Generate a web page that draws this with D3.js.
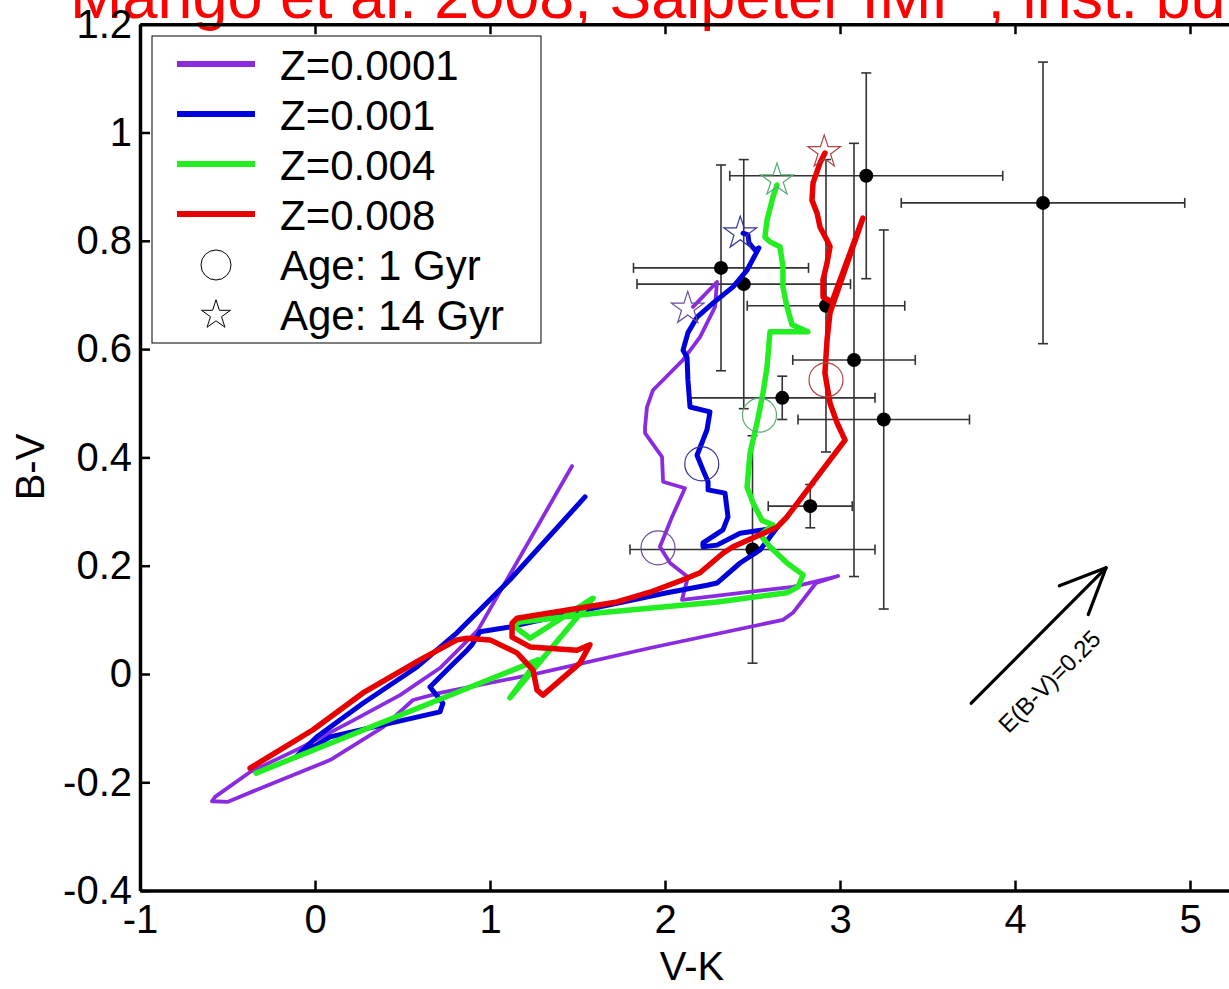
<!DOCTYPE html>
<html>
<head>
<meta charset="utf-8">
<script src="https://cdn.jsdelivr.net/npm/d3@7"></script>
<style>
  body { margin: 0; background: #fff; }
  svg text { font-family: "Liberation Sans", Arial, Helvetica, sans-serif; }
</style>
</head>
<body>
<div id="chart"></div>
<script>
// observed clusters (V-K, B-V) with errors
const obsVK  = [3.15, 4.16, 2.32, 2.45, 2.92, 3.08, 2.67, 3.25, 2.83, 2.50];
const obsBV  = [0.92, 0.87, 0.75, 0.72, 0.68, 0.58, 0.51, 0.47, 0.31, 0.23];
const obsVKerr = [0.78, 0.81, 0.50, 0.61, 0.45, 0.35, 0.53, 0.49, 0.24, 0.70];
const obsBVerr = [0.19, 0.26, 0.19, 0.23, 0.27, 0.40, 0.04, 0.35, 0.04, 0.21];

// model tracks, one per metallicity
const z0001VK = [1.469, 0.931, 0.714, 0.486, 0.2, -0.086, -0.371, -0.571, -0.589, -0.497, -0.297, 0.086, 0.389, 0.56, 0.714, 1.286, 1.914, 2.674, 2.731, 2.863, 2.989, 2.943, 2.731, 2.097, 2.131, 2.029, 1.971, 2.04, 2.114, 1.989, 1.983, 1.886, 1.886, 1.897, 1.931, 2.103, 2.2, 2.286, 2.297, 2.16];
const z0001BV = [0.384, 0.081, 0.011, -0.039, -0.089, -0.137, -0.181, -0.227, -0.235, -0.236, -0.209, -0.159, -0.098, -0.048, -0.035, 0.002, 0.048, 0.100, 0.113, 0.168, 0.181, 0.177, 0.161, 0.137, 0.179, 0.205, 0.235, 0.290, 0.343, 0.355, 0.401, 0.445, 0.456, 0.493, 0.524, 0.580, 0.622, 0.678, 0.724, 0.678];

const z001VK = [1.543, 1.114, 0.811, 0.583, 0.274, 0.011, -0.109, -0.069, 0.086, 0.714, 0.731, 0.657, 0.771, 0.869, 0.897, 0.943, 1.114, 1.629, 2.011, 2.24, 2.297, 2.429, 2.543, 2.64, 2.429, 2.297, 2.217, 2.217, 2.331, 2.36, 2.343, 2.246, 2.246, 2.217, 2.183, 2.217, 2.24, 2.257, 2.143, 2.131, 2.126, 2.103, 2.131, 2.183, 2.274, 2.389, 2.469, 2.537, 2.514, 2.48, 2.474, 2.446];
const z001BV = [0.327, 0.174, 0.076, 0.013, -0.054, -0.116, -0.153, -0.146, -0.116, -0.070, -0.054, -0.024, 0.013, 0.044, 0.054, 0.078, 0.087, 0.124, 0.150, 0.164, 0.168, 0.205, 0.229, 0.270, 0.260, 0.238, 0.235, 0.242, 0.266, 0.290, 0.334, 0.340, 0.355, 0.377, 0.404, 0.432, 0.451, 0.484, 0.493, 0.543, 0.585, 0.598, 0.630, 0.659, 0.685, 0.715, 0.746, 0.787, 0.783, 0.796, 0.811, 0.814];

const z004VK = [-0.337, 1.274, 1.114, 1.589, 1.229, 1.131, 1.171, 1.629, 2.297, 2.697, 2.76, 2.789, 2.697, 2.6, 2.543, 2.617, 2.554, 2.503, 2.469, 2.486, 2.526, 2.56, 2.583, 2.6, 2.817, 2.726, 2.697, 2.674, 2.674, 2.657, 2.6, 2.571, 2.583, 2.617, 2.64];
const z004BV = [-0.183, 0.026, -0.044, 0.140, 0.066, 0.090, 0.096, 0.113, 0.133, 0.150, 0.161, 0.183, 0.205, 0.235, 0.257, 0.275, 0.284, 0.316, 0.345, 0.408, 0.464, 0.519, 0.567, 0.632, 0.632, 0.645, 0.678, 0.715, 0.752, 0.789, 0.798, 0.807, 0.838, 0.881, 0.903];

const z008VK = [-0.371, -0.011, 0.274, 0.6, 0.811, 0.869, 1.0, 1.154, 1.246, 1.269, 1.303, 1.514, 1.571, 1.497, 1.229, 1.126, 1.126, 1.154, 1.726, 1.914, 2.103, 2.2, 2.331, 2.389, 2.64, 2.697, 2.886, 3.029, 2.983, 2.943, 2.914, 2.926, 2.943, 3.131, 2.954, 2.903, 2.903, 2.926, 2.943, 2.926, 2.886, 2.869, 2.84, 2.846, 2.886, 2.914];
const z008BV = [-0.174, -0.103, -0.035, 0.026, 0.063, 0.066, 0.063, 0.039, 0.007, -0.030, -0.039, 0.020, 0.054, 0.044, 0.050, 0.068, 0.094, 0.103, 0.133, 0.151, 0.174, 0.187, 0.223, 0.235, 0.271, 0.290, 0.371, 0.432, 0.464, 0.500, 0.556, 0.617, 0.667, 0.842, 0.687, 0.696, 0.728, 0.759, 0.789, 0.801, 0.825, 0.851, 0.875, 0.907, 0.944, 0.962];

// 1 Gyr and 14 Gyr positions on each track
const age1VK  = [1.96, 2.21, 2.54, 2.92];
const age1BV  = [0.233, 0.388, 0.478, 0.543];
const age14VK = [2.13, 2.43, 2.64, 2.91];
const age14BV = [0.675, 0.814, 0.912, 0.964];

const seriesNames = ["Z=0.0001", "Z=0.001", "Z=0.004", "Z=0.008"];
const lineColors   = ["#8a2be2", "#0000dd", "#22ee22", "#e80000"];
const markerColors = ["#6a4a9a", "#333399", "#55aa77", "#b04444"];

// reddening vector
const ebv = 0.25, evk = 0.77;
const arrowStart = [3.75, -0.054];

const xTicks = [-1, 0, 1, 2, 3, 4, 5];
const xTickLabels = ["-1", "0", "1", "2", "3", "4", "5"];
const yTicks = [-0.4, -0.2, 0, 0.2, 0.4, 0.6, 0.8, 1, 1.2];
const yTickLabels = ["-0.4", "-0.2", "0", "0.2", "0.4", "0.6", "0.8", "1", "1.2"];

const width = 1229, height = 989;
const svg = d3.select("#chart").append("svg")
  .attr("width", width).attr("height", height);

const x = d3.scaleLinear().domain([-1, 5.3]).range([140, 1242.5]);
const y = d3.scaleLinear().domain([-0.4, 1.2]).range([890.6, 24.2]);

// title (cut at the top in the original)
svg.append("text")
  .attr("x", 70).attr("y", 18)
  .attr("fill", "#ff0000")
  .style("font-size", "63px")
  .text("Marigo et al. 2008, Salpeter IMF , inst. burst");

// error bars + cluster points
const cap = 5;
const eb = svg.append("g").attr("stroke", "#333").attr("stroke-width", 1.6);
obsVK.forEach((vk, i) => {
  const bv = obsBV[i], xe = obsVKerr[i], ye = obsBVerr[i];
  eb.append("line").attr("x1", x(vk - xe)).attr("x2", x(vk + xe)).attr("y1", y(bv)).attr("y2", y(bv));
  eb.append("line").attr("x1", x(vk - xe)).attr("x2", x(vk - xe)).attr("y1", y(bv) - cap).attr("y2", y(bv) + cap);
  eb.append("line").attr("x1", x(vk + xe)).attr("x2", x(vk + xe)).attr("y1", y(bv) - cap).attr("y2", y(bv) + cap);
  eb.append("line").attr("x1", x(vk)).attr("x2", x(vk)).attr("y1", y(bv - ye)).attr("y2", y(bv + ye));
  eb.append("line").attr("x1", x(vk) - cap).attr("x2", x(vk) + cap).attr("y1", y(bv - ye)).attr("y2", y(bv - ye));
  eb.append("line").attr("x1", x(vk) - cap).attr("x2", x(vk) + cap).attr("y1", y(bv + ye)).attr("y2", y(bv + ye));
});
svg.append("g").selectAll("circle")
  .data(obsVK)
  .enter().append("circle")
  .attr("cx", d => x(d))
  .attr("cy", (d, i) => y(obsBV[i]))
  .attr("r", 7)
  .attr("fill", "#000");

// tracks
const tracks = [[z0001VK, z0001BV], [z001VK, z001BV], [z004VK, z004BV], [z008VK, z008BV]];
const widths = [3.8, 5, 5.5, 5.5];
const line = d3.line().x(d => x(d[0])).y(d => y(d[1]));
tracks.forEach((t, k) => {
  svg.append("path")
    .datum(t[0].map((v, i) => [v, t[1][i]]))
    .attr("d", line)
    .attr("fill", "none")
    .attr("stroke", lineColors[k])
    .attr("stroke-width", widths[k])
    .attr("stroke-linejoin", "round")
    .attr("stroke-linecap", "round");
});

// age markers
const star = d3.symbol().type(d3.symbolStar).size(330);
age1VK.forEach((vk, k) => {
  svg.append("circle")
    .attr("cx", x(vk)).attr("cy", y(age1BV[k])).attr("r", 17)
    .attr("fill", "none").attr("stroke", markerColors[k]).attr("stroke-width", 1.2);
  svg.append("path")
    .attr("d", star)
    .attr("transform", `translate(${x(age14VK[k])},${y(age14BV[k])})`)
    .attr("fill", "none").attr("stroke", markerColors[k]).attr("stroke-width", 1.2);
});

// reddening arrow
const ax0 = x(arrowStart[0]), ay0 = y(arrowStart[1]);
const ax1 = x(arrowStart[0] + evk), ay1 = y(arrowStart[1] + ebv);
const ang = Math.atan2(ay1 - ay0, ax1 - ax0);
const headLen = 50, headAng = 0.42;
const arr = svg.append("g").attr("stroke", "#000").attr("stroke-width", 3.2).attr("stroke-linecap", "round");
arr.append("line").attr("x1", ax0).attr("y1", ay0).attr("x2", ax1).attr("y2", ay1);
[-headAng, headAng].forEach(a => {
  arr.append("line").attr("x1", ax1).attr("y1", ay1)
    .attr("x2", ax1 - headLen * Math.cos(ang + a))
    .attr("y2", ay1 - headLen * Math.sin(ang + a));
});
const midT = 0.37, off = 40;
const lx = ax0 + (ax1 - ax0) * midT - off * Math.sin(ang);
const ly = ay0 + (ay1 - ay0) * midT + off * Math.cos(ang);
svg.append("text")
  .attr("transform", `translate(${lx},${ly}) rotate(${ang * 180 / Math.PI})`)
  .attr("text-anchor", "middle")
  .attr("dy", "0.35em")
  .style("font-size", "24px")
  .text("E(B-V)=" + ebv);

// axes
function styleAxis(g) {
  g.select(".domain").attr("stroke", "#000").attr("stroke-width", 3.5);
  g.selectAll(".tick line").attr("stroke", "#000").attr("stroke-width", 2.5);
  g.selectAll(".tick text").attr("fill", "#000").style("font-size", "40px");
}
svg.append("g")
  .attr("transform", `translate(0,${y(-0.4)})`)
  .call(d3.axisBottom(x).tickValues(xTicks).tickSize(-10).tickSizeOuter(0).tickPadding(14)
    .tickFormat((d, i) => xTickLabels[i]))
  .call(styleAxis);
svg.append("g")
  .attr("transform", `translate(0,${y(1.2)})`)
  .call(d3.axisTop(x).tickValues(xTicks).tickSize(-10).tickSizeOuter(0).tickFormat(""))
  .call(styleAxis);
svg.append("g")
  .attr("transform", `translate(${x(-1)},0)`)
  .call(d3.axisLeft(y).tickValues(yTicks).tickSize(-10).tickSizeOuter(0).tickPadding(8)
    .tickFormat((d, i) => yTickLabels[i]))
  .call(styleAxis);
svg.append("g")
  .attr("transform", `translate(${x(5.3)},0)`)
  .call(d3.axisRight(y).tickValues(yTicks).tickSize(-10).tickSizeOuter(0).tickFormat(""))
  .call(styleAxis);

// axis labels
svg.append("text")
  .attr("x", 692).attr("y", 980)
  .attr("text-anchor", "middle")
  .style("font-size", "40px")
  .text("V-K");
svg.append("text")
  .attr("transform", "translate(44,467) rotate(-90)")
  .attr("text-anchor", "middle")
  .style("font-size", "40px")
  .text("B-V");

// legend
const leg = svg.append("g").attr("transform", "translate(152,36)");
leg.append("rect").attr("width", 389).attr("height", 307)
  .attr("fill", "#fff").attr("stroke", "#000").attr("stroke-width", 1);
seriesNames.forEach((name, k) => {
  leg.append("line")
    .attr("x1", 25).attr("x2", 103)
    .attr("y1", 28 + k * 50).attr("y2", 28 + k * 50)
    .attr("stroke", lineColors[k]).attr("stroke-width", 6);
  leg.append("text").attr("x", 128).attr("y", 44 + k * 50)
    .style("font-size", "42px").text(name);
});
leg.append("circle").attr("cx", 64).attr("cy", 229).attr("r", 15)
  .attr("fill", "none").attr("stroke", "#000").attr("stroke-width", 1);
leg.append("text").attr("x", 128).attr("y", 244).style("font-size", "42px").text("Age: 1 Gyr");
leg.append("path").attr("d", d3.symbol().type(d3.symbolStar).size(260))
  .attr("transform", "translate(64,279)")
  .attr("fill", "none").attr("stroke", "#000").attr("stroke-width", 1);
leg.append("text").attr("x", 128).attr("y", 294).style("font-size", "42px").text("Age: 14 Gyr");
</script>
</body>
</html>
